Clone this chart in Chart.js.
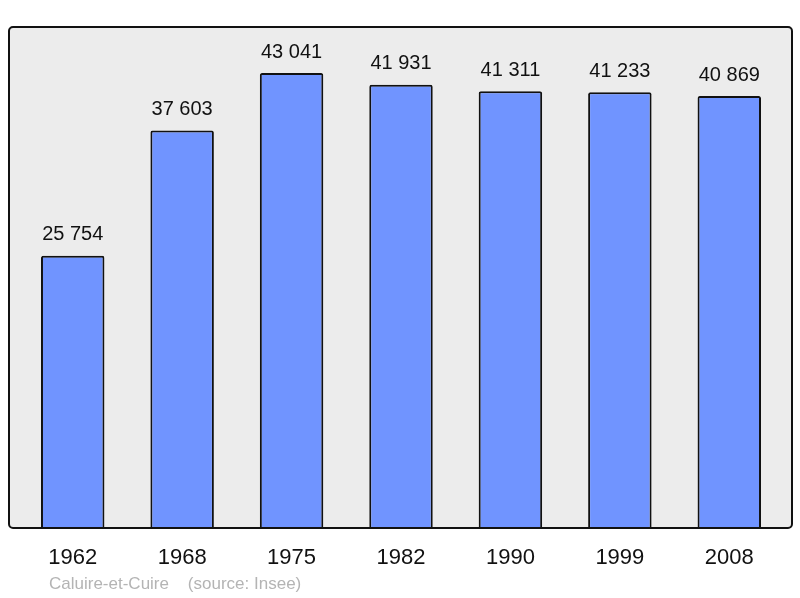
<!DOCTYPE html>
<html>
<head>
<meta charset="utf-8">
<script src="https://cdn.jsdelivr.net/npm/chart.js@4"></script>
<style>
  html, body { margin: 0; padding: 0; background: #ffffff; }
  #wrap { position: relative; width: 800px; height: 598px; }
</style>
</head>
<body>
<div id="wrap"><canvas id="chart" width="800" height="598"></canvas></div>
<script>
const years = ["1962", "1968", "1975", "1982", "1990", "1999", "2008"];
const population = [25754, 37603, 43041, 41931, 41311, 41233, 40869];
const yMax = 47400;
const sourceText = "Caluire-et-Cuire    (source: Insee)";

function formatNumber(value) {
  return String(value).replace(/\B(?=(\d{3})+(?!\d))/g, " ");
}

// grey panel with rounded black frame behind the bars
const panelPlugin = {
  id: "panel",
  beforeDraw(chart) {
    const { ctx, chartArea } = chart;
    const x = chartArea.left - 9;
    const y = chartArea.top;
    const w = chartArea.right - chartArea.left + 17;
    const h = chartArea.bottom - chartArea.top;
    ctx.save();
    ctx.beginPath();
    ctx.roundRect(x, y, w, h, 4);
    ctx.fillStyle = "#ececec";
    ctx.fill();
    ctx.restore();
  },
  afterDatasetsDraw(chart) {
    const { ctx, chartArea } = chart;
    const x = chartArea.left - 9;
    const y = chartArea.top;
    const w = chartArea.right - chartArea.left + 17;
    const h = chartArea.bottom - chartArea.top;
    ctx.save();
    ctx.beginPath();
    ctx.roundRect(x, y, w, h, 4);
    ctx.lineWidth = 2;
    ctx.strokeStyle = "#111111";
    ctx.stroke();

    // value labels above bars
    const meta = chart.getDatasetMeta(0);
    ctx.font = "20px 'Liberation Sans', Arial, sans-serif";
    ctx.fillStyle = "#111111";
    ctx.textAlign = "center";
    ctx.textBaseline = "middle";
    meta.data.forEach((bar, i) => {
      ctx.fillText(formatNumber(population[i]), bar.x, bar.y - 21);
    });

    // source line
    ctx.font = "17px 'Liberation Sans', Arial, sans-serif";
    ctx.fillStyle = "#b4b4b4";
    ctx.textAlign = "left";
    ctx.fillText(sourceText, 49, 584);
    ctx.restore();
  },
};

new Chart(document.getElementById("chart"), {
  type: "bar",
  data: {
    labels: years,
    datasets: [
      {
        data: population,
        backgroundColor: "#7094ff",
        borderColor: "#111111",
        borderWidth: 2,
        borderRadius: { topLeft: 2, topRight: 2 },
        borderSkipped: "bottom",
        categoryPercentage: 1,
        barPercentage: 0.58,
      },
    ],
  },
  options: {
    responsive: false,
    animation: false,
    events: [],
    layout: { padding: { left: 18, right: 16, top: 27, bottom: 0 } },
    plugins: {
      legend: { display: false },
      tooltip: { enabled: false },
    },
    scales: {
      x: {
        grid: { display: false, drawTicks: false },
        border: { display: false },
        ticks: {
          color: "#111111",
          font: { family: "'Liberation Sans', Arial, sans-serif", size: 22 },
          padding: 17,
          maxRotation: 0,
        },
        afterFit(scale) {
          scale.height = 70;
        },
      },
      y: {
        display: false,
        min: 0,
        max: yMax,
      },
    },
  },
  plugins: [panelPlugin],
});
</script>
</body>
</html>
